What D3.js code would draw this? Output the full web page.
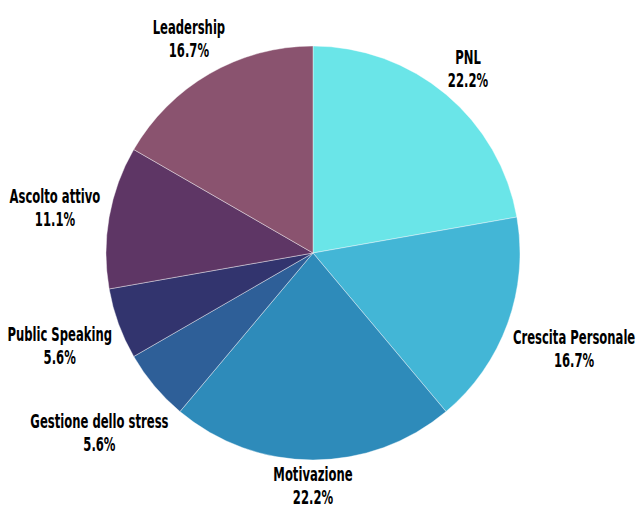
<!DOCTYPE html>
<html lang="it">
<head>
<meta charset="UTF-8">
<style>
  body { margin: 0; background: #fff; }
  text { font-family: "DejaVu Sans Condensed", "Liberation Sans Narrow", sans-serif; font-weight: bold; font-size: 19px; fill: #000; }
</style>
</head>
<body>
<div id="chart"></div>
<script src="https://cdn.jsdelivr.net/npm/d3@7"></script>
<script>
var categories = ["PNL", "Crescita Personale", "Motivazione", "Gestione dello stress", "Public Speaking", "Ascolto attivo", "Leadership"];
var values = [4, 3, 4, 1, 1, 2, 3];
var colors = ["#6ae5e8", "#43b6d6", "#2e8bba", "#2e5f98", "#32346e", "#5e3665", "#8a536f"];

var width = 639, height = 505,
    cx = 313, cy = 253,
    radius = 207,
    squeeze = 0.68; // condensed look for the labels

var total = d3.sum(values);
var data = categories.map(function(c, i) { return { name: c, value: values[i], color: colors[i] }; });

var svg = d3.select("#chart").append("svg")
    .attr("width", width)
    .attr("height", height);

var g = svg.append("g").attr("transform", "translate(" + cx + "," + cy + ")");

var pie = d3.pie().sort(null).value(function(d) { return d.value; });
var arc = d3.arc().innerRadius(0).outerRadius(radius);

var arcs = pie(data);

g.selectAll("path")
    .data(arcs)
    .enter().append("path")
    .attr("d", arc)
    .style("fill", function(d) { return d.data.color; })
    .style("stroke", "#ffffff")
    .style("stroke-width", 0.4);

var labels = g.selectAll("g.label")
    .data(arcs)
    .enter().append("g")
    .attr("class", "label");

labels.append("text")
    .attr("text-anchor", "middle")
    .attr("y", -4.5)
    .text(function(d) { return d.data.name; });

labels.append("text")
    .attr("text-anchor", "middle")
    .attr("y", 18.5)
    .text(function(d) { return (d.data.value / total * 100).toFixed(1) + "%"; });

// label box centred on the slice's mid ray, pushed out until its edge clears the pie
labels.attr("transform", function(d) {
    var a = (d.startAngle + d.endAngle) / 2;
    var w = this.getBBox().width * squeeze, h = 37;
    var s = Math.sin(a), c = Math.cos(a);
    var r = radius + 7 + Math.abs(s) * w / 2 + Math.abs(c) * h / 2;
    return "translate(" + (s * r) + "," + (-c * r) + ") scale(" + squeeze + ",1)";
});
</script>
</body>
</html>
